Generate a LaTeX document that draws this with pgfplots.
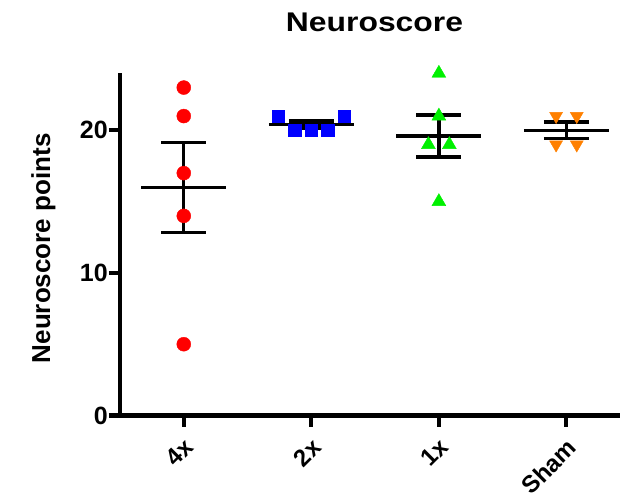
\documentclass[border=0pt]{standalone}
\usepackage{fontspec}
\setmainfont{Liberation Sans}
\usepackage{graphicx}
\usepackage{pgfplots}
\pgfplotsset{compat=1.18}
\definecolor{mred}{RGB}{255,0,0}
\definecolor{mblue}{RGB}{0,0,255}
\definecolor{mgreen}{RGB}{0,240,0}
\definecolor{morange}{RGB}{255,128,0}
\begin{document}
\begin{tikzpicture}
\useasboundingbox (0,0) rectangle (629bp,497bp);
\begin{axis}[
  at={(120bp,81.5bp)}, anchor=south west,
  scale only axis, width=500bp, height=342.2bp,
  xmin=-0.5, xmax=3.42, ymin=0, ymax=24,
  enlargelimits=false,
  axis x line=bottom, axis y line=left,
  axis line style={line width=4bp, -},
  tick align=outside,
  major tick length=11bp,
  every tick/.style={line width=4bp, black},
  xtick={0,1,2,3},
  xticklabels={4x,2x,1x,Sham},
  ytick={0,10,20},
  /pgf/number format/assume math mode=true,
  yticklabel style={font=\bfseries\fontsize{25bp}{30bp}\selectfont, inner sep=1bp},
  xticklabel style={font=\bfseries\fontsize{24bp}{28bp}\selectfont, rotate=45, anchor=north east, inner sep=0pt, xshift=-8bp, yshift=-7bp},
  clip=false,
]
\addplot[only marks, mark=*, mark size=7bp, color=mred] coordinates {(0,23)(0,21)(0,17)(0,14)(0,5)};
\addplot[only marks, mark=square*, mark size=6.3bp, color=mblue] coordinates {(0.741,21)(0.87,20)(1,20)(1.13,20)(1.259,21)};
\addplot[only marks, mark=triangle*, mark size=8bp, color=mgreen] coordinates {(2,24)(2,21)(1.918,19)(2.082,19)(2,15)};
\addplot[only marks, mark=triangle*, mark size=7.5bp, color=morange, mark options={rotate=180}] coordinates {(2.919,21)(3.081,21)(2.919,19)(3.081,19)};
\addplot[black, line width=3.3bp, unbounded coords=jump] coordinates {
(-0.333,16)(0.333,16) (0.5,nan)
(0,12.838)(0,19.162) (0.5,nan)
(-0.177,12.838)(0.177,12.838) (0.5,nan)
(-0.177,19.162)(0.177,19.162) (0.5,nan)
(0.667,20.4)(1.333,20.4) (1.5,nan)
(1,20.155)(1,20.645) (1.5,nan)
(0.823,20.155)(1.177,20.155) (1.5,nan)
(0.823,20.645)(1.177,20.645) (1.5,nan)
(1.667,19.6)(2.333,19.6) (2.5,nan)
(2,18.130)(2,21.070) (2.5,nan)
(1.823,18.130)(2.177,18.130) (2.5,nan)
(1.823,21.070)(2.177,21.070) (2.5,nan)
(2.667,20)(3.333,20) (3.5,nan)
(3,19.423)(3,20.577) (3.5,nan)
(2.823,19.423)(3.177,19.423) (3.5,nan)
(2.823,20.577)(3.177,20.577)
};
\end{axis}
\node[anchor=base, font=\bfseries\fontsize{27bp}{32bp}\selectfont] at (374.5bp,465.3bp) {\scalebox{1.18}[1]{Neuroscore}};
\node[rotate=90, anchor=base, font=\bfseries\fontsize{26bp}{31bp}\selectfont] at (50bp,248.7bp) {Neuroscore points};
\end{tikzpicture}
\end{document}
